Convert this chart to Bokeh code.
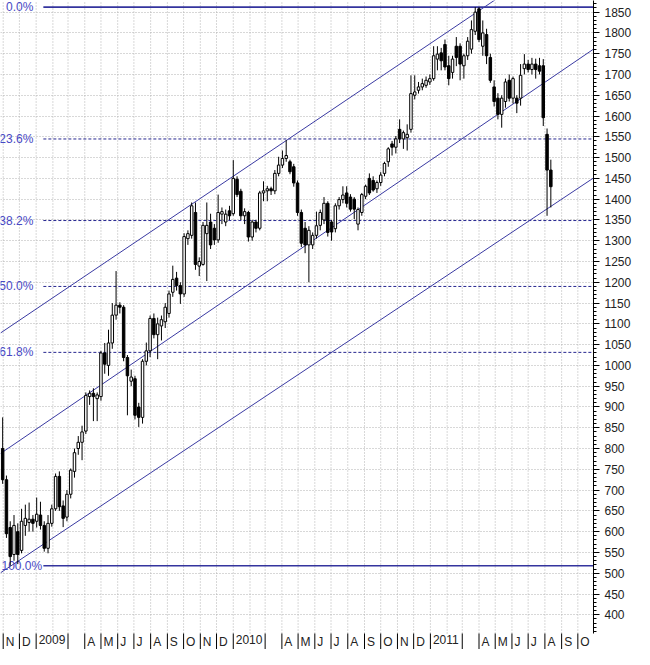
import numpy as np
import pandas as pd
from bokeh.plotting import figure
from bokeh.models import Range1d, FixedTicker, SingleIntervalTicker, ColumnDataSource
from bokeh.embed import file_html
from bokeh.resources import INLINE
from bokeh.core.properties import value

# ---------------- data ----------------
first_week = "2008-10-31"   # weekly bars (Fridays)
opens = [800, 725, 610, 545, 600, 555, 615, 622, 630, 625, 640, 615, 560, 620, 655, 733, 662, 635, 690, 745,
         800, 815, 842, 925, 933, 920, 925, 1030, 1000, 1054, 1121, 1145, 1140, 1019, 962, 968, 900, 875, 1010, 1035,
         1113, 1074, 1095, 1105, 1125, 1176, 1210, 1192, 1172, 1305, 1313, 1368, 1239, 1243, 1317, 1345, 1330, 1302, 1364, 1345,
         1372, 1365, 1448, 1419, 1360, 1368, 1309, 1345, 1330, 1415, 1420, 1425, 1420, 1462, 1482, 1498, 1490, 1478, 1439, 1368,
         1330, 1290, 1290, 1313, 1337, 1350, 1390, 1345, 1329, 1384, 1399, 1415, 1405, 1400, 1340, 1368, 1407, 1450, 1445, 1425,
         1440, 1462, 1490, 1533, 1525, 1568, 1545, 1548, 1568, 1650, 1662, 1670, 1674, 1682, 1690, 1737, 1752, 1772, 1721, 1705,
         1768, 1768, 1721, 1745, 1761, 1804, 1858, 1768, 1796, 1741, 1670, 1643, 1604, 1635, 1686, 1643, 1643, 1643, 1714, 1725,
         1712, 1725, 1721, 1721, 1556, 1470]
highs = [875, 735, 625, 640, 620, 655, 665, 670, 640, 682, 672, 625, 640, 665, 740, 745, 675, 700, 752, 800,
         830, 855, 935, 940, 945, 935, 1035, 1054, 1086, 1150, 1227, 1152, 1145, 1025, 990, 975, 910, 1015, 1055, 1120,
         1125, 1115, 1120, 1150, 1180, 1240, 1225, 1200, 1318, 1325, 1392, 1392, 1260, 1345, 1392, 1365, 1340, 1411, 1380, 1375,
         1384, 1494, 1455, 1425, 1378, 1372, 1350, 1350, 1420, 1443, 1432, 1430, 1470, 1502, 1517, 1542, 1495, 1485, 1445, 1375,
         1345, 1335, 1320, 1370, 1375, 1405, 1395, 1350, 1390, 1405, 1431, 1431, 1412, 1405, 1380, 1415, 1435, 1462, 1455, 1445,
         1465, 1490, 1525, 1540, 1552, 1592, 1565, 1580, 1698, 1698, 1682, 1690, 1695, 1700, 1768, 1768, 1764, 1784, 1745, 1745,
         1790, 1775, 1750, 1790, 1830, 1862, 1862, 1830, 1810, 1750, 1686, 1655, 1650, 1690, 1700, 1695, 1650, 1725, 1749, 1735,
         1740, 1738, 1740, 1737, 1570, 1495]
lows = [715, 585, 518, 530, 522, 548, 590, 600, 600, 610, 605, 552, 548, 612, 650, 650, 611, 625, 680, 730,
        785, 772, 835, 905, 866, 866, 915, 980, 975, 1040, 1110, 1125, 1010, 880, 950, 870, 852, 860, 1000, 1020,
        1065, 1015, 1060, 1090, 1115, 1165, 1180, 1148, 1165, 1290, 1305, 1230, 1215, 1240, 1203, 1280, 1290, 1295, 1340, 1335,
        1350, 1360, 1405, 1350, 1340, 1298, 1300, 1320, 1325, 1395, 1395, 1410, 1412, 1455, 1475, 1490, 1460, 1430, 1360, 1285,
        1270, 1200, 1280, 1305, 1325, 1340, 1310, 1300, 1320, 1375, 1390, 1380, 1370, 1352, 1325, 1360, 1400, 1410, 1418, 1415,
        1432, 1455, 1478, 1505, 1510, 1535, 1521, 1517, 1560, 1640, 1654, 1662, 1668, 1675, 1685, 1710, 1710, 1710, 1674, 1690,
        1720, 1686, 1690, 1735, 1750, 1795, 1778, 1745, 1725, 1680, 1623, 1592, 1572, 1620, 1635, 1630, 1607, 1625, 1700, 1705,
        1700, 1690, 1700, 1576, 1360, 1380]
closes = [725, 595, 540, 615, 545, 625, 632, 630, 620, 642, 615, 560, 620, 655, 733, 660, 632, 690, 748, 790,
          815, 840, 928, 933, 925, 929, 1030, 1003, 1054, 1121, 1145, 1140, 1019, 975, 972, 880, 875, 1010, 1035, 1113,
          1074, 1100, 1110, 1140, 1172, 1207, 1192, 1172, 1310, 1317, 1384, 1243, 1250, 1337, 1337, 1290, 1302, 1368, 1370, 1364,
          1360, 1450, 1411, 1360, 1370, 1309, 1345, 1330, 1415, 1420, 1425, 1420, 1462, 1482, 1498, 1505, 1466, 1439, 1368, 1294,
          1290, 1325, 1313, 1336, 1368, 1390, 1320, 1321, 1384, 1399, 1410, 1390, 1376, 1376, 1375, 1411, 1431, 1415, 1422, 1440,
          1458, 1486, 1521, 1525, 1545, 1545, 1560, 1556, 1654, 1658, 1670, 1678, 1686, 1690, 1745, 1749, 1733, 1718, 1690, 1737,
          1741, 1725, 1745, 1780, 1808, 1850, 1784, 1800, 1745, 1686, 1635, 1604, 1643, 1682, 1643, 1690, 1631, 1698, 1725, 1712,
          1725, 1712, 1708, 1596, 1470, 1430]

fib_ratios = [0.0, 0.236, 0.382, 0.5, 0.618, 1.0]
fib_labels = ["0.0%", "23.6%", "38.2%", "50.0%", "61.8%", "100.0%"]

channel_dates = ["2008-10-27", "2011-10-30"]
channel_upper = [1078, 2039]
channel_middle = [788, 1761]
channel_lower = [501, 1451]

x_tick_months = list(pd.date_range("2008-11-01", "2011-10-01", freq="MS"))
x_tick_labels = ["N", "D",
                 "2009", "", "", "A", "M", "J", "J", "A", "S", "O", "N", "D",
                 "2010", "", "", "A", "M", "J", "J", "A", "S", "O", "N", "D",
                 "2011", "", "", "A", "M", "J", "J", "A", "S", "O"]

# ---------------- helpers ----------------
epoch = pd.Timestamp("2009-01-01")


def day(d):
    return int((pd.Timestamp(d) - epoch).days)


df = pd.DataFrame(dict(open=opens, high=highs, low=lows, close=closes))
df["date"] = pd.date_range(first_week, periods=len(df), freq="7D")
df["x"] = (df["date"] - epoch).dt.days
df["top"] = df[["open", "close"]].max(axis=1)
df["bottom"] = df[["open", "close"]].min(axis=1)
df["fill"] = np.where(df["close"] >= df["open"], "white", "black")
src = ColumnDataSource(df.drop(columns=["date"]))

W, H = 634, 649
RIGHT = 39                                          # room for the price axis
STRIP = 16                                          # room for the month labels
x_start, x_end = -66, 1032
px_per_day = (W - RIGHT) / (x_end - x_start)
y_top = 1878
plot_bottom = 355                                   # bottom of the price area
price_per_px = (y_top - plot_bottom) / (H - STRIP)
y_bottom = plot_bottom - STRIP * price_per_px

p = figure(width=W, height=H, x_range=Range1d(x_start, x_end), y_range=Range1d(y_bottom, y_top),
           x_axis_location=None, y_axis_location="right", output_backend="svg",
           toolbar_location=None, title=None,
           min_border_left=0, min_border_top=0, min_border_right=RIGHT, min_border_bottom=0)
p.outline_line_color = None
p.background_fill_color = "white"
p.border_fill_color = "white"

# y axis (right)
ya = p.yaxis[0]
ya.ticker = SingleIntervalTicker(interval=50, num_minor_ticks=5)
ya.bounds = (plot_bottom, y_top)
ya.axis_line_color = "black"
ya.major_tick_out = 6
ya.major_tick_in = 0
ya.minor_tick_out = 3
ya.minor_tick_in = 0
ya.major_tick_line_color = "black"
ya.minor_tick_line_color = "black"
ya.major_label_standoff = 5
ya.major_label_text_font = "Liberation Sans"
ya.major_label_text_font_size = "12px"
ya.major_label_text_color = "#222222"

# grids: horizontal on a fixed price ticker, vertical drawn month by month over the price area
month_days = [day(m) for m in x_tick_months]
p.xgrid.visible = False
p.ygrid.ticker = FixedTicker(ticks=list(range(400, 1851, 50)))
p.ygrid.grid_line_color = "#b0b0b0"
p.ygrid.grid_line_dash = "1 2"
p.segment(x0=month_days, y0=[plot_bottom] * len(month_days), x1=month_days, y1=[y_top] * len(month_days),
          line_color="#b0b0b0", line_dash="1 2", line_width=1)

# month axis in the bottom strip: separators and labels
sep_days = [d for d, m in zip(month_days, x_tick_months) if m.month != 2]
p.segment(x0=sep_days, y0=[plot_bottom] * len(sep_days), x1=sep_days, y1=[y_bottom] * len(sep_days),
          line_color="black", line_width=1)
lab_days = [d + 2.5 / px_per_day for d, lab in zip(month_days, x_tick_labels) if lab]
lab_text = [lab for lab in x_tick_labels if lab]
p.text(x=lab_days, y=[plot_bottom - 1 * price_per_px] * len(lab_days), text=lab_text,
       text_align="left", text_baseline="top", text_font=value("Liberation Sans"),
       text_font_size="12px", text_color="#222222")

# fibonacci levels
hi, lo = max(highs), min(lows)
levels = [hi - r * (hi - lo) for r in fib_ratios]
fib_x0 = x_start + 43 / px_per_day
lab_x = x_start + 33 / px_per_day
solid = [lv for r, lv in zip(fib_ratios, levels) if r in (0.0, 1.0)]
dashed = [lv for r, lv in zip(fib_ratios, levels) if r not in (0.0, 1.0)]
p.segment(x0=[fib_x0] * len(solid), y0=solid, x1=[x_end] * len(solid), y1=solid,
          line_color="#34349e", line_width=1.6)
p.segment(x0=[fib_x0] * len(dashed), y0=dashed, x1=[x_end] * len(dashed), y1=dashed,
          line_color="#26268f", line_width=1, line_dash="3 2")
p.text(x=[lab_x] * (len(levels) - 1), y=levels[:-1], text=fib_labels[:-1], text_align="right",
       text_baseline="middle", text_font=value("Liberation Sans"), text_font_size="12px", text_color="#4848c4")
p.text(x=[x_start + 1 / px_per_day], y=levels[-1:], text=fib_labels[-1:], text_align="left",
       text_baseline="middle", text_font=value("Liberation Sans"), text_font_size="12px", text_color="#4848c4")

# channel lines
cx = [day(d) for d in channel_dates]
for vals in (channel_upper, channel_middle, channel_lower):
    p.line(x=cx, y=vals, line_color="#3a3aa2", line_width=1)

# candles
p.segment(x0="x", y0="high", x1="x", y1="low", source=src, line_color="black", line_width=1)
p.vbar(x="x", width=4.6, top="top", bottom="bottom", source=src,
       fill_color="fill", line_color="black", line_width=1)

open("out.html", "w").write(file_html(p, INLINE))
